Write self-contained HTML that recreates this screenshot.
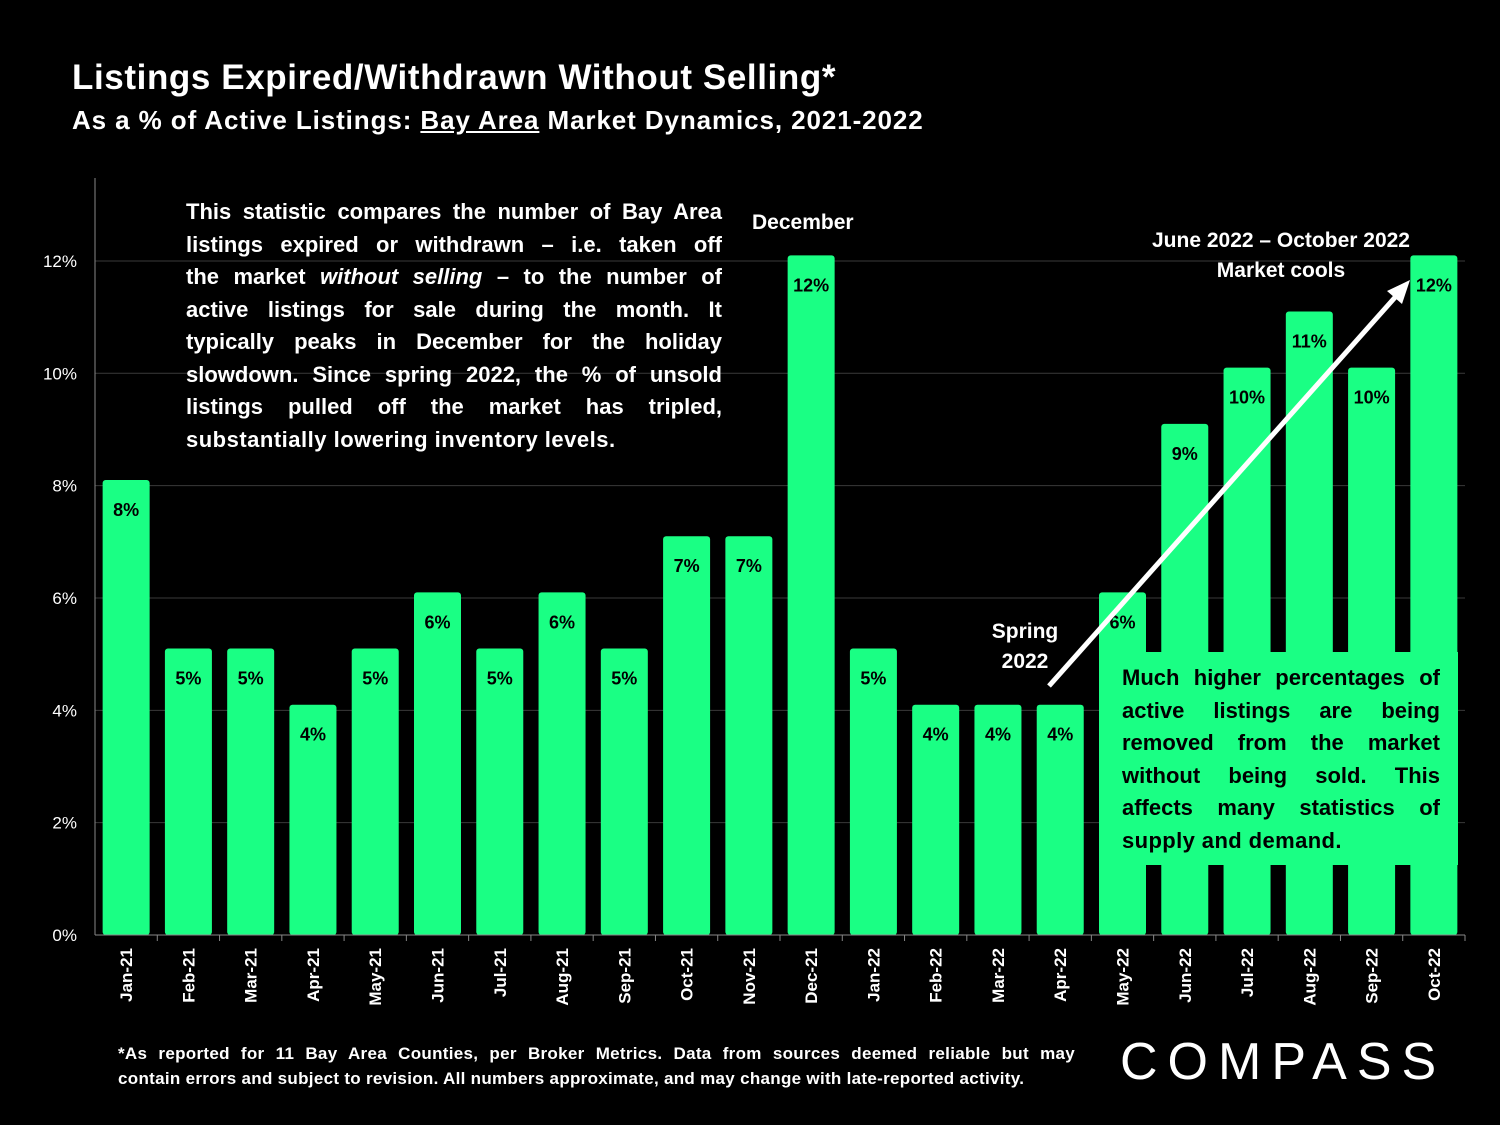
<!DOCTYPE html>
<html><head><meta charset="utf-8"><style>
body{margin:0;background:#000;width:1500px;height:1125px;overflow:hidden;font-family:"Liberation Sans",sans-serif;color:#fff}
.t{position:absolute;font-weight:bold}
.jl{text-align:justify;text-align-last:justify;white-space:nowrap}
</style></head><body>
<div class="t" style="left:72px;top:58px;font-size:35px;letter-spacing:0.6px">Listings Expired/Withdrawn Without Selling*</div>
<div class="t" style="left:72px;top:105px;font-size:26px;letter-spacing:0.9px">As a % of Active Listings: <u>Bay Area</u> Market Dynamics, 2021-2022</div>
<svg id="c" width="1500" height="1125" style="position:absolute;left:0;top:0"></svg>
<div class="t" style="left:186px;top:196px;width:536px;font-size:22px;line-height:32.5px;letter-spacing:0px">
<div class="jl">This statistic compares the number of Bay Area</div>
<div class="jl">listings expired or withdrawn – i.e. taken off</div>
<div class="jl">the market <i>without selling</i> – to the number of</div>
<div class="jl">active listings for sale during the month. It</div>
<div class="jl">typically peaks in December for the holiday</div>
<div class="jl">slowdown. Since spring 2022, the % of unsold</div>
<div class="jl">listings pulled off the market has tripled,</div>
<div style="letter-spacing:0.5px">substantially lowering inventory levels.</div>
</div>
<div class="t" style="left:752px;top:211px;font-size:21px">December</div>
<div class="t" style="left:1130px;top:226px;width:302px;text-align:center;font-size:21px;line-height:30px">June 2022 – October 2022<br>Market cools</div>
<div class="t" style="left:975px;top:617px;width:100px;text-align:center;font-size:21px;line-height:30px">Spring<br>2022</div>
<div class="t" style="left:1099px;top:652px;width:359px;height:213px;background:#1aff84;color:#000;box-sizing:border-box;padding:10px 18px 0 23px;font-size:22px;line-height:32.5px;letter-spacing:0px">
<div class="jl">Much higher percentages of</div>
<div class="jl">active listings are being</div>
<div class="jl">removed from the market</div>
<div class="jl">without being sold. This</div>
<div class="jl">affects many statistics of</div>
<div style="letter-spacing:0.4px">supply and demand.</div>
</div>
<div class="t" style="left:118px;top:1041px;width:957px;font-size:17px;line-height:25px;letter-spacing:0.3px">
<div class="jl">*As reported for 11 Bay Area Counties, per Broker Metrics. Data from sources deemed reliable but may</div>
<div>contain errors and subject to revision. All numbers approximate, and may change with late-reported activity.</div></div>
<div style="position:absolute;left:1120px;top:1032px;font-size:52px;letter-spacing:10px;font-weight:normal">COMPASS</div>
<script>
const categories=["Jan-21","Feb-21","Mar-21","Apr-21","May-21","Jun-21","Jul-21","Aug-21","Sep-21","Oct-21","Nov-21","Dec-21","Jan-22","Feb-22","Mar-22","Apr-22","May-22","Jun-22","Jul-22","Aug-22","Sep-22","Oct-22"];
const values=[8.1,5.1,5.1,4.1,5.1,6.1,5.1,6.1,5.1,7.1,7.1,12.1,5.1,4.1,4.1,4.1,6.1,9.1,10.1,11.1,10.1,12.1];
const valueLabels=["8%","5%","5%","4%","5%","6%","5%","6%","5%","7%","7%","12%","5%","4%","4%","4%","6%","9%","10%","11%","10%","12%"];
const yTicks=[0,2,4,6,8,10,12];
const NS="http://www.w3.org/2000/svg";
const svg=document.getElementById('c');
const x0=95,x1=1465,yBase=935,pxPer=56.17;
const band=(x1-x0)/categories.length;
const y=v=>yBase-v*pxPer;
const xc=i=>x0+band*(i+0.5);
function mk(t,a){const e=document.createElementNS(NS,t);for(const k in a)e.setAttribute(k,a[k]);svg.appendChild(e);return e;}
yTicks.forEach(t=>{
 if(t>0){const g=mk('line',{x1:x0,x2:x1,y1:y(t),y2:y(t),stroke:'#3a3a3a','stroke-width':1});
 
 }
 const l=mk('text',{x:77,y:y(t)+6,'text-anchor':'end',fill:'#fff','font-size':17,'font-family':'Liberation Sans'});
 l.textContent=t+'%';
 
 
});
const ya=mk('line',{x1:x0,x2:x0,y1:178,y2:yBase,stroke:'#888','stroke-width':1});


values.forEach((v,i)=>{
 const bw=47,cx=xc(i);
 const b=mk('rect',{x:cx-bw/2,y:y(v),width:bw,height:yBase-y(v),fill:'#1aff84',rx:3});
 
 
 const lab=mk('text',{x:cx,y:y(v)+36,'text-anchor':'middle',fill:'#000','font-size':18,'font-weight':'bold','font-family':'Liberation Sans'});
 lab.textContent=valueLabels[i];
 
 
 const tk=mk('line',{x1:x0+band*(i+1),x2:x0+band*(i+1),y1:yBase,y2:yBase+6,stroke:'#888'});
 
 
 const xl=mk('text',{x:0,y:0,'text-anchor':'end',fill:'#fff','font-size':17,'font-weight':'bold','font-family':'Liberation Sans',transform:`translate(${cx+6},948) rotate(-90)`});
 xl.textContent=categories[i];
 
 
});
const xa=mk('line',{x1:x0,x2:x1,y1:yBase,y2:yBase,stroke:'#888','stroke-width':1});


const ar=mk('line',{x1:1049,y1:686,x2:1398,y2:294,stroke:'#fff','stroke-width':5});


const ah=mk('polygon',{points:'1410,280 1387,291 1402,304',fill:'#fff'});


</script>
</body></html>
